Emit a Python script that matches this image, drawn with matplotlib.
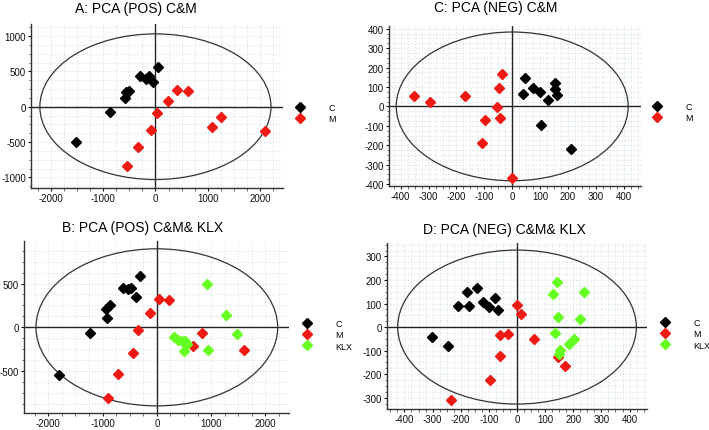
import numpy as np
import matplotlib
matplotlib.use('Agg')
import matplotlib.pyplot as plt
from matplotlib.patches import Ellipse
from matplotlib.ticker import MultipleLocator, AutoMinorLocator

plt.rcParams['font.family'] = ['Liberation Sans', 'DejaVu Sans']
plt.rcParams['axes.unicode_minus'] = False

# ---- data ----
# A: PCA (POS) C&M
a_c_x = [-1510, -873, -586, -560, -497, -287, -172, -127, -45, 57]
a_c_y = [-495, -80, 118, 203, 226, 429, 392, 429, 354, 557]
a_m_x = [-535, -338, -83, 25, 236, 414, 618, 1083, 1248, 2089]
a_m_y = [-835, -566, -330, -90, 75, 236, 217, -283, -151, -344]

# C: PCA (NEG) C&M
c_c_x = [37, 47, 73, 98, 129, 152, 152, 160, 105, 211]
c_c_y = [63, 144, 94, 75, 32, 123, 92, 60, -96, -219]
c_m_x = [-354, -295, -171, -37, -49, -55, -43, -96, -107, -1]
c_m_y = [55, 21, 51, 168, 96, -2, -58, -68, -188, -369]

# B: PCA (POS) C&M& KLX
b_c_x = [-307, -626, -534, -479, -387, -920, -933, -871, -1227, -1804]
b_c_y = [591, 447, 432, 447, 348, 106, 212, 250, -64, -538]
b_m_x = [49, 233, -135, -356, -448, -718, -896, 828, 674, 1612]
b_m_y = [318, 311, 159, -34, -295, -530, -811, -68, -216, -255]
b_k_x = [926, 1275, 1472, 950, 318, 398, 460, 521, 552, 508]
b_k_y = [492, 140, -76, -255, -114, -141, -152, -159, -190, -266]

# D: PCA (NEG) C&M& KLX
d_c_x = [-142, -179, -210, -170, -122, -101, -77, -68, -301, -244]
d_c_y = [164, 147, 91, 91, 107, 85, 122, 71, -42, -79]
d_m_x = [0, 15, -62, -32, 60, -62, -95, -235, 145, 172]
d_m_y = [93, 55, -34, -28, -50, -124, -226, -308, -127, -165]
d_k_x = [141, 129, 237, 147, 225, 135, 202, 185, 154, 149]
d_k_y = [190, 140, 150, 42, 35, -25, -50, -74, -99, -113]

W, H = 709, 431
fig = plt.figure(figsize=(W / 100, H / 100), dpi=100)

BLACK = '#000000'
RED = '#f01a14'
GREEN = '#66ff22'


def rect(l, t, r, b):
    return [l / W, 1 - b / H, (r - l) / W, (b - t) / H]


def panel(box, title, tpos, xlim, ylim, xmaj, ymaj, ell, groups, leg_pos):
    ax = fig.add_axes(rect(*box))
    ax.set_xlim(*xlim)
    ax.set_ylim(*ylim)
    ax.xaxis.set_major_locator(MultipleLocator(xmaj))
    ax.yaxis.set_major_locator(MultipleLocator(ymaj))
    ax.xaxis.set_minor_locator(AutoMinorLocator(4))
    ax.yaxis.set_minor_locator(AutoMinorLocator(4))
    ax.grid(which='both', color='#d8e4e6', linestyle=':', linewidth=0.8)
    ax.set_axisbelow(True)
    for s in ['top', 'right']:
        ax.spines[s].set_visible(False)
    for s in ['left', 'bottom']:
        ax.spines[s].set_color('#333333')
        ax.spines[s].set_linewidth(1.0)
    ax.tick_params(which='major', length=2.5, width=0.8, labelsize=7,
                   colors='#111111', pad=1.2)
    ax.tick_params(which='minor', length=1.8, width=0.6, colors='#555555')
    ax.axhline(0, color='#222222', lw=1.0, zorder=1)
    ax.axvline(0, color='#222222', lw=1.0, zorder=1)
    ax.add_patch(Ellipse((0, 0), 2 * ell[0], 2 * ell[1], fill=False,
                         edgecolor='#333333', lw=0.9, zorder=1))
    handles = []
    for x, y, col, lab in groups:
        h, = ax.plot(x, y, 'D', color=col, ms=5.5, mec=col, label=lab,
                     linestyle='none', zorder=3)
        handles.append(h)
    fig.legend(handles=handles, loc='upper left',
               bbox_to_anchor=(leg_pos[0] / W, 1 - leg_pos[1] / H),
               frameon=False, fontsize=6.5, handlelength=0.8,
               handletextpad=2.8, labelspacing=0.25, borderpad=0,
               borderaxespad=0)
    fig.text(tpos[0] / W, 1 - tpos[1] / H, title, ha='center', va='center',
             fontsize=10)
    return ax


panel((31, 25, 283, 189), 'A: PCA (POS) C&M', (136, 9),
      (-2380, 2440), (-1150, 1170), 1000, 500, (2210, 1030),
      [(a_c_x, a_c_y, BLACK, 'C'), (a_m_x, a_m_y, RED, 'M')], (296, 104))

panel((389, 27, 641, 187), 'C: PCA (NEG) C&M', (496, 8),
      (-442, 462), (-410, 414), 100, 100, (416, 383),
      [(c_c_x, c_c_y, BLACK, 'C'), (c_m_x, c_m_y, RED, 'M')], (653, 103))

panel((24, 242, 289, 414), 'B: PCA (POS) C&M& KLX', (143, 228),
      (-2448, 2436), (-977, 985), 1000, 500, (2227, 896),
      [(b_c_x, b_c_y, BLACK, 'C'), (b_m_x, b_m_y, RED, 'M'),
       (b_k_x, b_k_y, GREEN, 'KLX')], (303, 320))

panel((387, 244, 647, 410), 'D: PCA (NEG) C&M& KLX', (504, 230),
      (-462, 462), (-348, 357), 100, 100, (424, 327),
      [(d_c_x, d_c_y, BLACK, 'C'), (d_m_x, d_m_y, RED, 'M'),
       (d_k_x, d_k_y, GREEN, 'KLX')], (661, 319))

fig.savefig('out.png', dpi=100)
